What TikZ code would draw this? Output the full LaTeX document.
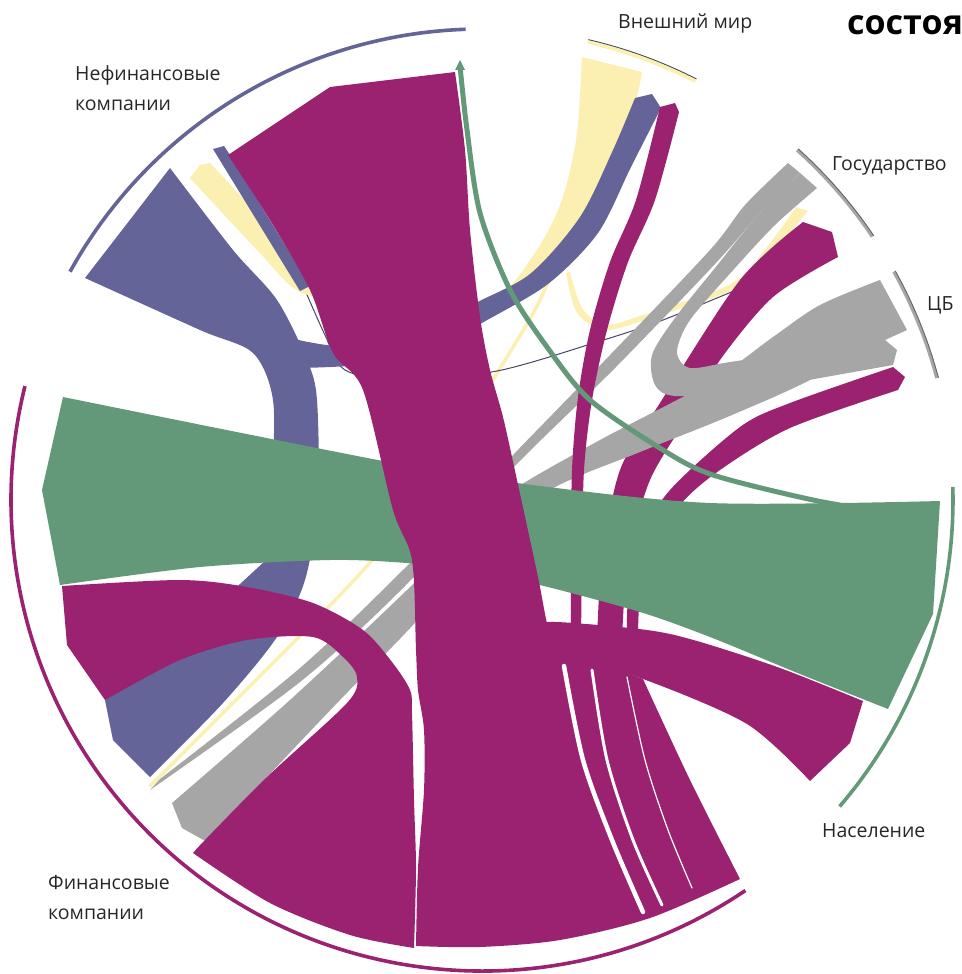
\documentclass[tikz,border=0pt]{standalone}
\usepackage{fontspec}
\setmainfont{Open Sans}
\usepackage{tikz}
\definecolor{fincol}{RGB}{155,34,112}
\definecolor{nfincol}{RGB}{100,100,152}
\definecolor{extcol}{RGB}{252,239,178}
\definecolor{govcol}{RGB}{166,166,166}
\definecolor{popcol}{RGB}{99,152,120}
\tikzstyle{finband}=[fill=fincol]
\tikzstyle{nfinband}=[fill=nfincol]
\tikzstyle{extband}=[fill=extcol]
\tikzstyle{govband}=[fill=govcol]
\tikzstyle{popband}=[fill=popcol]
\tikzstyle{thread}=[line cap=round,line join=round]
\tikzstyle{gap}=[draw=white,line cap=round]
\tikzstyle{rim}=[line width=3.6pt]
\tikzstyle{sector}=[font=\fontsize{19.5}{29.5}\selectfont,text=black!85,align=left,inner sep=0pt]

\begin{document}
\begin{tikzpicture}[x=1pt,y=-1pt]
        \useasboundingbox (0,0) rectangle (961,974);
        % faint chords
        \draw[thread,extcol,line width=3.5pt] plot[smooth] coordinates {(150,786) (260,676) (367,566) (440,470) (493,380) (540,300) (565,230) (578,150)};
        \fill[extband] plot[smooth] coordinates {(796,207) (740,278) (673,305) (640,316) (605,325) (582,308) (570,272)} -- plot[smooth] coordinates {(566,273) (577,313) (605,330) (642,321) (676,310) (744,283) (808,211)} -- cycle;
        \draw[thread,nfincol!70!black,line width=1pt] plot[smooth] coordinates {(305,290) (325,335) (345,370) (400,380) (497,371) (597,342) (663,320) (760,280)};
        % Vneshnij mir -> Nefinansovye
        \fill[extband] (582,57) -- (642,72) -- plot[smooth] coordinates {(642,72) (636,100) (615,160) (583,222) (535,280) (480,310) (420,330) (340,320) (310,287) (287,247) (210,163)} -- (200,165) -- (190,178) -- plot[smooth] coordinates {(190,178) (257,250) (300,292) (360,300) (480,303) (513,283) (547,233) (565,190) (577,133) (582,57)} -- cycle;
        % Nefinansovye
        \fill[nfinband] (213,149) -- (224,146) -- (232,158) -- (310,286) -- (300,291) -- cycle;
        \fill[nfinband] plot[smooth] coordinates {(290,338) (340,346) (420,338) (470,306) (530,274) (580,217) (613,150) (635,98)} -- (652,94) -- (661,108) -- plot[smooth] coordinates {(661,108) (631,167) (598,233) (548,284) (482,323) (420,358) (347,366) (300,368)} -- cycle;
        \fill[nfinband] (170,168) -- (85,278) -- plot[smooth] coordinates {(85,278) (200,330) (253,353) (273,400) (272,480) (266,560)} -- plot[smooth] coordinates {(266,560) (200,620) (105,700)} -- (113,740) -- (150,777) -- plot[smooth] coordinates {(150,777) (223,703) (277,637) (305,580) (318,500) (317,400) (307,360) (277,300) (233,250) (170,168)} -- cycle;
        % Gosudarstvo, CB -> Finansovye (under grey)
        \fill[finband] (803,222) -- (832,232) -- (838,257) -- plot[smooth] coordinates {(838,257) (773,297) (720,360) (690,413) (650,480) (628,560) (622,640)} -- (597,640) -- plot[smooth] coordinates {(597,640) (602,560) (620,470) (660,403) (740,280) (803,222)} -- cycle;
        \fill[finband] (893,367) -- (905,377) -- (898,390) -- plot[smooth] coordinates {(898,390) (790,428) (720,470) (680,505) (655,550) (640,600) (638,645)} -- (627,645) -- plot[smooth] coordinates {(627,645) (628,600) (640,540) (670,490) (740,427) (790,403) (893,367)} -- cycle;
        % grey chords
        \fill[govband] plot[smooth] coordinates {(788,163) (745,205) (710,250) (610,355) (513,455) (413,560) (300,668) (160,779)} -- (150,790) -- plot[smooth] coordinates {(150,790) (300,682) (405,586) (513,468) (615,368) (715,264) (760,213) (800,173)} -- cycle;
        \fill[govband] plot[smooth] coordinates {(800,173) (758,215) (715,268) (675,318) (652,355) (655,385) (675,396) (740,392) (820,378) (893,365)} -- (897,350) -- (885,340) -- plot[smooth] coordinates {(885,340) (800,352) (730,362) (690,368) (677,352) (690,320) (735,268) (775,225) (817,188)} -- cycle;
        \fill[govband] (880,280) -- (907,330) -- (885,340) -- plot[smooth] coordinates {(885,340) (800,385) (720,420) (640,452) (550,490) (480,548) (413,625) (340,700) (267,777) (207,842)} -- (182,828) -- (172,803) -- plot[smooth] coordinates {(172,803) (290,700) (407,590) (460,535) (513,490) (600,440) (710,382) (773,337) (820,305) (880,280)} -- cycle;
        % Vneshnij mir -> Finansovye
        \fill[finband] (660,107) -- (675,103) -- (679,112) -- plot[smooth] coordinates {(679,112) (655,200) (628,262) (607,330) (592,400) (584,470) (582,560) (581,640)} -- (571,640) -- plot[smooth] coordinates {(571,640) (571,560) (572,470) (578,397) (590,330) (610,262) (636,200) (660,107)} -- cycle;
        % Naselenie
        \fill[popband] (63,397) -- plot[smooth] coordinates {(63,397) (383,461) (517,483) (710,503) (940,501)} -- (933,614) -- (888,709) -- plot[smooth] coordinates {(888,709) (800,674) (710,637) (640,612) (540,585) (470,570) (407,563) (330,560) (200,567) (60,585)} -- (42,490) -- cycle;
        \fill[finband] (863,701) -- (850,743) -- (810,781) -- plot[smooth] coordinates {(810,781) (747,724) (643,679) (590,667) (540,666)} -- (520,640) -- plot[smooth] coordinates {(520,625) (557,622) (647,630) (697,641) (780,668) (863,701)} -- cycle;
        % Nefinansovye -> Finansovye
        \fill[finband] (228,155) -- (330,87) -- (455,72) -- plot[smooth] coordinates {(455,72) (465,150) (470,230) (480,317) (490,370) (503,417) (517,480) (538,577) (548,627) (560,650)} -- (643,679) -- plot[smooth] coordinates {(643,679) (690,780) (740,879)} -- plot[smooth] coordinates {(740,879) (650,918) (560,940) (480,947) (416,946)} -- plot[smooth] coordinates {(416,946) (418,868) (424,790) (424,730) (418,690) (416,650) (412,560) (393,510) (363,390) (333,353) (310,290) (270,220) (228,155)} -- cycle;
        \draw[gap,line width=4.5pt] plot[smooth] coordinates {(564,666) (583,760) (612,840) (643,912)};
        \draw[gap,line width=3pt] plot[smooth] coordinates {(592,670) (607,760) (633,840) (662,905)};
        \draw[gap,line width=1.2pt] plot[smooth] coordinates {(627,677) (645,760) (668,830) (692,888)};
        % Finansovye -> Finansovye
        \fill[finband] (62,586) -- plot[smooth] coordinates {(62,586) (180,580) (247,587) (313,603) (363,630) (392,662) (410,690) (412,713) (414,800) (416,868) (414,948)} -- plot[smooth] coordinates {(414,948) (350,935) (270,903) (193,853)} -- plot[smooth] coordinates {(193,853) (205,840) (267,777) (347,703) (357,677) (343,657) (313,637) (247,640) (180,660) (105,700)} -- (67,645) -- cycle;
        % Naselenie -> Nefinansovye
        \draw[thread,popcol,line width=5pt] plot[smooth] coordinates {(460,66) (467,130) (480,213) (510,290) (547,347) (590,400) (663,450) (713,475) (813,500) (890,513)};
        \fill[popcol] (455,70) -- (460,60) -- (465,70) -- cycle;
        % sectors
        \draw[rim,nfincol] (482,500) ++(-151:471) arc[start angle=-151,end angle=-92,radius=471];
        \draw[rim,fincol] (482,500) ++(-304:471) arc[start angle=-304,end angle=-166,radius=471];
        \draw[rim,popcol] (482,500) ++(40.6:471) arc[start angle=40.6,end angle=-1.6,radius=471];
        \draw[rim,govcol] (482,500) ++(-29:471) arc[start angle=-29,end angle=-15,radius=471];
        \draw[rim,govcol] (482,500) ++(-48:471) arc[start angle=-48,end angle=-34,radius=471];
        \draw[rim,extcol] (482,500) ++(-77:470) arc[start angle=-77,end angle=-63,radius=470];
        \draw[line width=0.9pt,black!70] (482,500) ++(-77:472.5) arc[start angle=-77,end angle=-63,radius=472.5];
        \draw[line width=0.9pt,black!60] (482,500) ++(-29:472.5) arc[start angle=-29,end angle=-15,radius=472.5];
        \draw[line width=0.9pt,black!60] (482,500) ++(-48:472.5) arc[start angle=-48,end angle=-34,radius=472.5];
        \node[sector,anchor=base west] (nfinlbl) at (75,110) {Нефинансовые\\компании};
        \node[sector,anchor=base west] (extlbl) at (618,29) {Внешний мир};
        \node[sector,anchor=base west] (govlbl) at (832,170) {Государство};
        \node[sector,anchor=base west] (cblbl) at (927,310) {ЦБ};
        \node[sector,anchor=base west] (poplbl) at (822,837) {Население};
        \node[sector,anchor=base west] (finlbl) at (48,919) {Финансовые\\компании};
        \node[font=\fontsize{34}{40}\selectfont\bfseries,anchor=base west,inner sep=0pt] (title) at (847,35) {состоя};
\end{tikzpicture}
\end{document}
